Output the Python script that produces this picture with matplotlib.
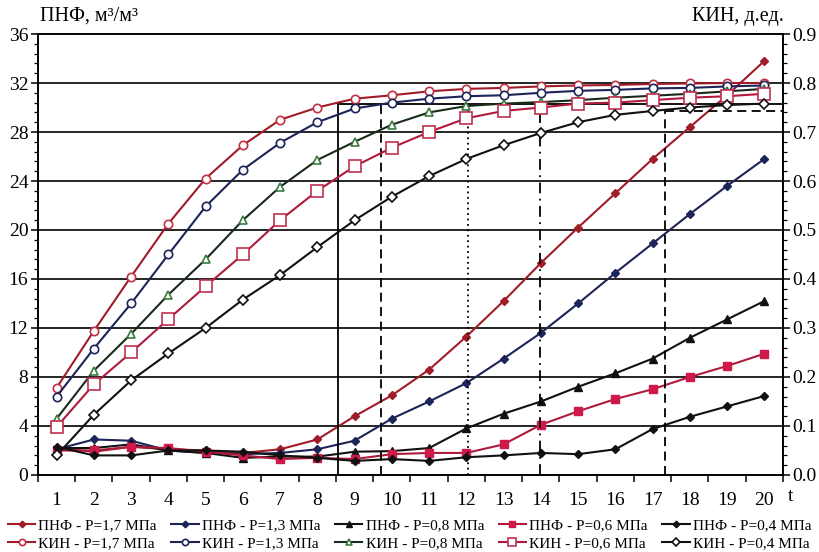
import matplotlib
matplotlib.use("Agg")
import matplotlib.pyplot as plt
from matplotlib.ticker import MultipleLocator

plt.rcParams['font.family'] = ['Liberation Serif', 'DejaVu Serif']

t = list(range(1, 21))

pnf_17 = [2.2, 1.9, 2.3, 2.1, 2.0, 1.8, 2.1, 2.9, 4.8, 6.5, 8.6, 11.3, 14.2, 17.3, 20.2, 23.0, 25.8, 28.4, 31.0, 33.8]
pnf_13 = [2.1, 2.9, 2.8, 2.0, 1.8, 1.7, 1.8, 2.1, 2.8, 4.6, 6.0, 7.5, 9.5, 11.6, 14.0, 16.5, 18.9, 21.3, 23.6, 25.8]
pnf_08 = [2.2, 2.2, 2.5, 2.0, 1.8, 1.4, 1.5, 1.5, 1.9, 1.95, 2.2, 3.8, 5.0, 6.0, 7.2, 8.3, 9.5, 11.2, 12.7, 14.2]
pnf_06 = [2.0, 2.0, 2.3, 2.2, 1.9, 1.6, 1.3, 1.4, 1.3, 1.7, 1.8, 1.8, 2.5, 4.1, 5.2, 6.2, 7.0, 8.0, 8.9, 9.9]
pnf_04 = [2.3, 1.6, 1.6, 2.0, 2.0, 1.9, 1.6, 1.4, 1.15, 1.3, 1.15, 1.45, 1.6, 1.8, 1.7, 2.1, 3.75, 4.75, 5.6, 6.45]

kin_17 = [0.178, 0.294, 0.405, 0.513, 0.605, 0.673, 0.725, 0.750, 0.768, 0.775, 0.783, 0.788, 0.790, 0.793, 0.795, 0.796, 0.798, 0.799, 0.800, 0.800]
kin_13 = [0.160, 0.258, 0.350, 0.450, 0.548, 0.623, 0.678, 0.720, 0.748, 0.760, 0.768, 0.773, 0.775, 0.780, 0.784, 0.786, 0.789, 0.790, 0.793, 0.795]
kin_08 = [0.115, 0.213, 0.288, 0.368, 0.440, 0.520, 0.588, 0.643, 0.680, 0.715, 0.740, 0.753, 0.758, 0.761, 0.765, 0.770, 0.774, 0.778, 0.783, 0.788]
kin_06 = [0.098, 0.185, 0.250, 0.318, 0.385, 0.450, 0.520, 0.580, 0.630, 0.668, 0.700, 0.728, 0.743, 0.750, 0.758, 0.760, 0.765, 0.770, 0.773, 0.778]
kin_04 = [0.040, 0.123, 0.193, 0.248, 0.300, 0.358, 0.408, 0.465, 0.520, 0.568, 0.610, 0.645, 0.673, 0.698, 0.720, 0.735, 0.743, 0.750, 0.755, 0.758]

pressures = ["1,7", "1,3", "0,8", "0,6", "0,4"]

ref_t = [8.55, 9.7, 12.05, 13.98, 17.33]
ref_level = [0.757, 0.757, 0.757, 0.757, 0.742]
ref_styles = ['-', (0, (5, 3)), (0, (1, 2)), (0, (6, 3, 1, 3)), (0, (5, 3))]

fig = plt.figure(figsize=(8.19, 5.52), dpi=100)
ax = fig.add_axes([0.0464, 0.1395, 0.9096, 0.7989])
ax2 = ax.twinx()

ax.set_xlim(0.5, 20.5)
ax.set_ylim(0, 36)
ax2.set_ylim(0, 0.9)

# grid
for y in range(4, 36, 4):
    ax.axhline(y, color='black', lw=1.2, zorder=1)

# reference lines (on KIN axis)
for xt, lv, ls in zip(ref_t, ref_level, ref_styles):
    ax2.plot([xt, xt], [0, lv], color='black', lw=1.3, ls=ls, zorder=2)
ax2.plot([ref_t[0], 20.5], [ref_level[0], ref_level[0]], color='black', lw=1.3, ls='-', zorder=2)
ax2.plot([ref_t[-1], 20.5], [ref_level[-1], ref_level[-1]], color='black', lw=1.3, ls=(0, (5, 3)), zorder=2)

c17 = '#a01c28'
c13 = '#1c2458'
c08 = '#111111'
c06 = '#b01a3c'
c04 = '#111111'

lw = 1.5

pnf_specs = [
    (pnf_17, c17, 'D', c17, c17, 4.5),
    (pnf_13, c13, 'D', c13, c13, 4.5),
    (pnf_08, c08, '^', c08, c08, 6),
    (pnf_06, c06, 's', '#d0184a', '#d0184a', 6),
    (pnf_04, c04, 'D', c04, c04, 4.5),
]
kin_specs = [
    (kin_17, c17, 'o', 'white', '#c03040', 6),
    (kin_13, c13, 'o', 'white', c13, 6),
    (kin_08, '#1a2a1a', '^', 'white', '#3a7a40', 6),
    (kin_06, c06, 's', 'white', '#c03050', 8),
    (kin_04, c04, 'D', 'white', c04, 5.5),
]

pnf_handles = []
kin_handles = []
for (vals, col, mk, fc, ec, msz), p in zip(pnf_specs, pressures):
    h, = ax.plot(t, vals, color=col, lw=lw, marker=mk, mfc=fc, mec=ec, ms=msz,
                 label=f'ПНФ - Р={p} МПа', zorder=4)
    pnf_handles.append(h)
for (vals, col, mk, fc, ec, msz), p in zip(kin_specs, pressures):
    h, = ax2.plot(t, vals, color=col, lw=lw, marker=mk, mfc=fc, mec=ec, ms=msz, mew=1.2,
                  label=f'КИН - Р={p} МПа', zorder=4)
    kin_handles.append(h)

# ticks
fs = 14
ax.set_xticks(t)
ax.set_xticklabels([str(v) for v in t])
ax.set_xticks([v + 0.5 for v in range(0, 21)], minor=True)
ax.tick_params(axis='x', which='major', length=0, pad=12, labelsize=fs)
ax.tick_params(axis='x', which='minor', length=5, width=1.1, direction='out')

ax.yaxis.set_major_locator(MultipleLocator(4))
ax.yaxis.set_minor_locator(MultipleLocator(0.8))
ax.tick_params(axis='y', which='major', length=5, width=1.1, labelsize=fs, direction='out', pad=2)
ax.tick_params(axis='y', which='minor', length=3, width=0.9, direction='out')

ax2.set_yticks([i / 10 for i in range(10)])
ax2.set_yticklabels([f'{v:.1f}' for v in [i / 10 for i in range(10)]])
ax2.yaxis.set_minor_locator(MultipleLocator(0.02))
ax2.tick_params(axis='y', which='major', length=5, width=1.1, labelsize=fs, direction='out', pad=2)
ax2.tick_params(axis='y', which='minor', length=3, width=0.9, direction='out')

for a in (ax, ax2):
    for s in a.spines.values():
        s.set_linewidth(1.2)
        s.set_color('black')

fig.text(0.049, 0.953, 'ПНФ, м³/м³', fontsize=14.5, ha='left', va='bottom')
fig.text(0.957, 0.953, 'КИН, д.ед.', fontsize=14.5, ha='right', va='bottom')
fig.text(0.962, 0.1, 't', fontsize=fs, ha='left', va='center')

order = []
for ph, kh in zip(pnf_handles, kin_handles):
    order += [ph, kh]
fig.legend(handles=order, labels=[h.get_label() for h in order], ncol=5,
           loc='lower center', bbox_to_anchor=(0.5, -0.016), frameon=False,
           fontsize=11, handlelength=1.8, handletextpad=0.2, columnspacing=0.95,
           labelspacing=0.3, borderpad=0.2, markerscale=0.75)

fig.savefig('out.png', dpi=100)
